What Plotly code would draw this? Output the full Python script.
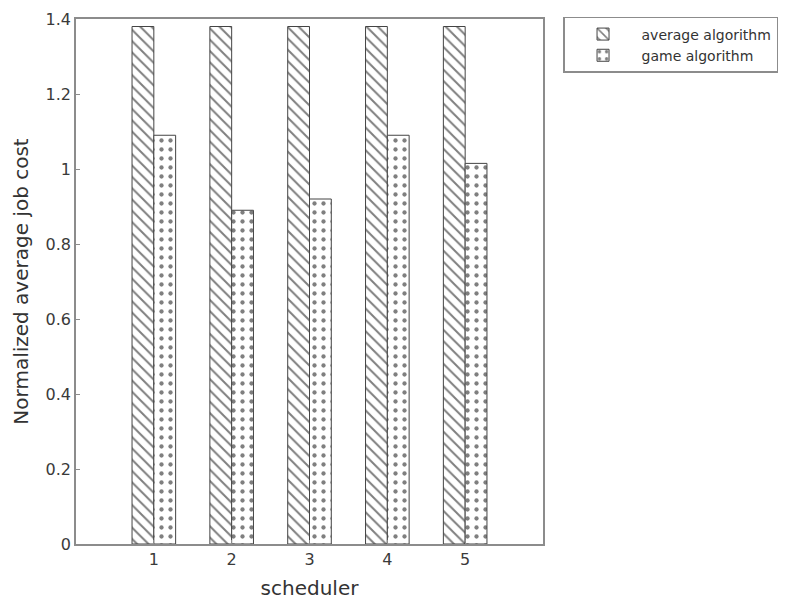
import plotly.graph_objects as go

schedulers = [1, 2, 3, 4, 5]
average_algorithm = [1.38, 1.38, 1.38, 1.38, 1.38]
game_algorithm = [1.09, 0.89, 0.92, 1.09, 1.015]
y_ticks = [0, 0.2, 0.4, 0.6, 0.8, 1.0, 1.2, 1.4]
y_tick_labels = ["0", "0.2", "0.4", "0.6", "0.8", "1", "1.2", "1.4"]

FONT = "DejaVu Sans, Liberation Sans, Arial"

fig = go.Figure()
fig.add_trace(go.Bar(
    x=schedulers, y=average_algorithm, name="average algorithm",
    marker=dict(color="white", line=dict(color="#444444", width=1),
                pattern=dict(shape="\\", fgcolor="black", bgcolor="white",
                             size=8, solidity=0.25)),
))
fig.add_trace(go.Bar(
    x=schedulers, y=game_algorithm, name="game algorithm",
    marker=dict(color="white", line=dict(color="#444444", width=1),
                pattern=dict(shape=".", fgcolor="black", bgcolor="white",
                             size=9, solidity=0.18)),
))

axis_common = dict(showline=True, mirror=True, linecolor="#8c8c8c", linewidth=1.5,
                   ticks="inside", ticklen=4, tickcolor="#8c8c8c",
                   showgrid=False, zeroline=False,
                   tickfont=dict(family=FONT, size=16, color="#3a3a3a"))

fig.update_layout(
    width=779, height=598,
    margin=dict(l=68, r=244, t=11, b=62),
    paper_bgcolor="white", plot_bgcolor="white",
    barmode="group", bargap=0.44, bargroupgap=0,
    font=dict(family=FONT, color="#333333"),
    xaxis=dict(range=[0, 6], tickvals=schedulers, automargin="bottom",
               title=dict(text="scheduler", font=dict(size=20, color="#333333"), standoff=13),
               **axis_common),
    yaxis=dict(range=[0, 1.4], tickvals=y_ticks, ticktext=y_tick_labels, automargin="left",
               title=dict(text="Normalized average job cost", font=dict(size=20, color="#333333"), standoff=12),
               **axis_common),
    legend=dict(xref="container", yref="container", x=0.7125, y=0.985,
                xanchor="left", yanchor="top",
                bordercolor="#8c8c8c", borderwidth=1.5, bgcolor="white",
                font=dict(size=14, color="#333333"), tracegroupgap=0,
                itemwidth=67),
    showlegend=True,
)

fig.write_html("out.html")
